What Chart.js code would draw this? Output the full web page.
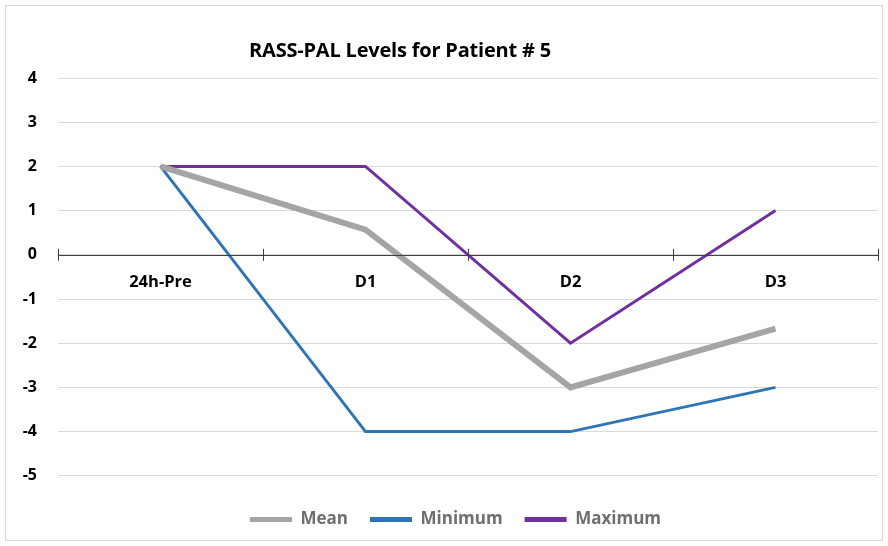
<!DOCTYPE html>
<html>
<head>
<meta charset="utf-8">
<script src="https://cdn.jsdelivr.net/npm/chart.js@4/dist/chart.umd.min.js"></script>
<style>
html,body{margin:0;padding:0;background:#fff;}
#wrap{position:relative;width:888px;height:546px;}
#title{position:absolute;left:0;width:800px;top:36px;text-align:center;
 font-family:"Open Sans",sans-serif;font-weight:bold;font-size:20px;color:#000;letter-spacing:-0.2px;}
</style>
</head>
<body>
<div id="wrap">
<canvas id="rassChart" width="888" height="546"></canvas>
<div id="title">RASS-PAL Levels for Patient # 5</div>
</div>
<script>
const days = ["24h-Pre", "D1", "D2", "D3"];
const meanVals = [2, 0.57, -3, -1.67];
const minVals = [2, -4, -4, -3];
const maxVals = [2, 2, -2, 1];

const RASSCHART = document.getElementById('rassChart');

const frame = {
  id: 'frame',
  beforeDraw(chart) {
    const c = chart.ctx;
    c.save();
    c.fillStyle = '#fff';
    c.fillRect(0, 0, chart.width, chart.height);
    c.strokeStyle = '#d9d9d9';
    c.lineWidth = 1;
    c.strokeRect(5.5, 5.5, 877, 535);
    c.restore();
  },
  afterLayout(chart) {
    // legend sits a little right of centre in the original
    chart.legend.left += 12;
    chart.legend.right += 12;
  }
};

// tick marks crossing the zero line
const crossTicks = {
  id: 'crossTicks',
  afterDatasetsDraw(chart) {
    const c = chart.ctx, y0 = chart.scales.y.getPixelForValue(0);
    const step = (chart.chartArea.right - chart.chartArea.left) / days.length;
    c.save();
    c.strokeStyle = '#404040';
    c.lineWidth = 1;
    c.beginPath();
    for (let i = 0; i <= days.length; i++) {
      const px = Math.round(chart.chartArea.left + step * i) + 0.5;
      c.moveTo(px, y0 - 6);
      c.lineTo(px, y0 + 6);
    }
    c.moveTo(chart.chartArea.left, Math.round(y0) + 0.5);
    c.lineTo(chart.chartArea.right, Math.round(y0) + 0.5);
    c.stroke();
    c.restore();
  }
};

new Chart(RASSCHART, {
  type: 'line',
  data: {
    labels: days,
    datasets: [
      { label: 'Mean', data: meanVals, borderColor: '#A5A5A5', backgroundColor: '#A5A5A5', borderWidth: 6 },
      { label: 'Minimum', data: minVals, borderColor: '#2E75B6', backgroundColor: '#2E75B6', borderWidth: 3 },
      { label: 'Maximum', data: maxVals, borderColor: '#7030A0', backgroundColor: '#7030A0', borderWidth: 3 }
    ]
  },
  options: {
    responsive: false,
    animation: false,
    elements: { point: { radius: 0 }, line: { tension: 0 } },
    layout: { padding: { left: 9, right: 10, top: 78, bottom: 8 } },
    plugins: {
      title: { display: false },
      tooltip: { enabled: false },
      legend: {
        position: 'bottom',
        title: { display: true, text: '', font: { size: 1 }, padding: { top: 12, bottom: 0 } },
        labels: {
          boxWidth: 42, boxHeight: 5, padding: 22,
          color: '#6f6f6f',
          font: { family: 'Open Sans', weight: 'bold', size: 17 },
          generateLabels(chart) {
            const items = Chart.defaults.plugins.legend.labels.generateLabels(chart);
            items.forEach(it => { it.lineWidth = 0; });
            return items;
          }
        }
      }
    },
    scales: {
      x: {
        position: { y: 0 },
        offset: true,
        grid: { display: false },
        border: { display: false },
        ticks: { color: '#000', padding: 10, font: { family: 'Open Sans', weight: 'bold', size: 16.5 } }
      },
      y: {
        min: -5, max: 4,
        afterFit(scale) { scale.width = 49; },
        ticks: { stepSize: 1, color: '#000', padding: 21, font: { family: 'Open Sans', weight: 'bold', size: 16 } },
        grid: { color: '#d9d9d9', drawTicks: false },
        border: { display: false }
      }
    }
  },
  plugins: [frame, crossTicks]
});
</script>
</body>
</html>
